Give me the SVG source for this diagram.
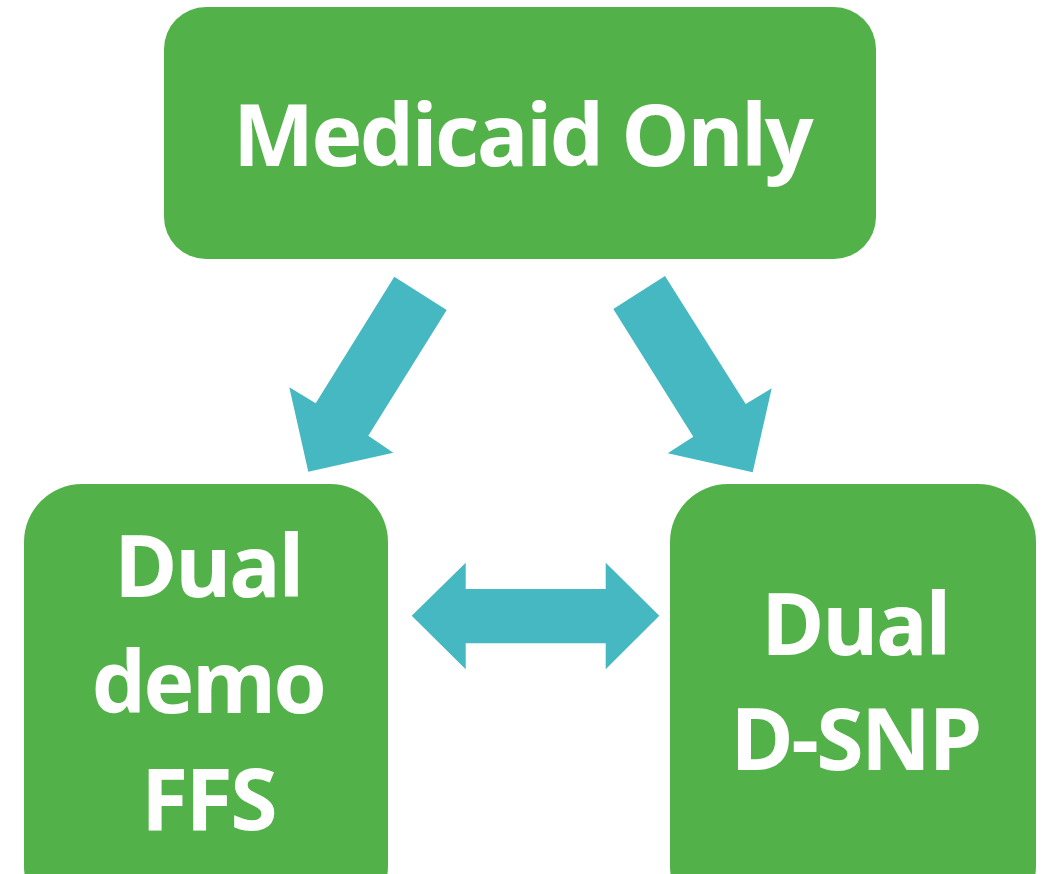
<svg xmlns="http://www.w3.org/2000/svg" width="1043" height="874" viewBox="0 0 1043 874">
<style>
.box{fill:#53B14A}
.arr{fill:#45B8C1}
.t{font-family:"Open Sans","Liberation Sans",sans-serif;font-weight:bold;fill:#fff;text-anchor:middle;font-size:86px;letter-spacing:-2.6px}
</style>
<rect width="1043" height="874" fill="#fff"/>
<g id="connectors">
<polygon class="arr" points="394.3,276.7 446.7,310 368.3,435.7 393.3,452.7 308.3,471.7 289.3,387.3 315.7,403.3"/>
<polygon class="arr" points="665,276 613.3,309 693.3,436.7 667.7,453.3 752.7,472.3 771.7,388.3 745.7,404"/>
<polygon class="arr" points="411.7,615.7 465.7,562.7 465.7,589 605.7,589 605.7,562.7 659.3,615.7 605.7,669.3 605.7,643.3 465.7,643.3 465.7,669.3"/>
</g>
<g id="medicaid-only">
<rect class="box" x="164" y="7" width="712" height="252" rx="42"/>
<text class="t" x="522" y="166">Medicaid Only</text>
</g>
<g id="dual-demo-ffs">
<rect class="box" x="24" y="484" width="364" height="440" rx="58"/>
<text class="t" x="208" y="597">Dual</text>
<text class="t" x="208" y="713">demo</text>
<text class="t" x="208" y="830">FFS</text>
</g>
<g id="dual-dsnp">
<rect class="box" x="670" y="484" width="366" height="440" rx="58"/>
<text class="t" x="855" y="655">Dual</text>
<text class="t" x="855" y="770">D-SNP</text>
</g>
</svg>
